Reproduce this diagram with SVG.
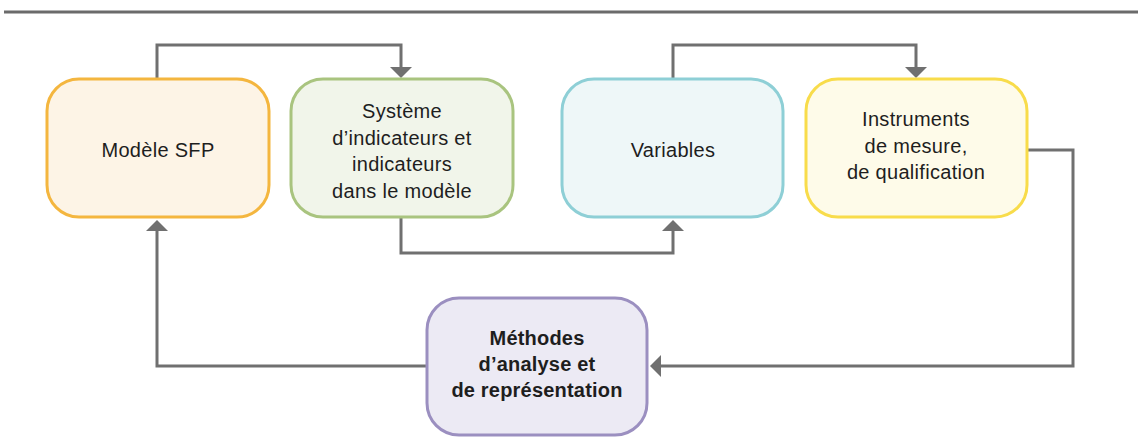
<svg xmlns="http://www.w3.org/2000/svg" width="1138" height="448" viewBox="0 0 1138 448">
<defs>
<style>
.box{stroke-width:3}
.t{font-family:"Liberation Sans",Arial,sans-serif;font-size:20px;letter-spacing:0.3px;fill:#1e1e1e;text-anchor:middle}
.b{font-weight:bold;letter-spacing:0.2px}
.c{fill:none;stroke:#707070;stroke-width:3;stroke-linejoin:miter}
.ah{fill:#707070}
</style>
</defs>
<rect x="4" y="10.5" width="1134" height="3" fill="#6b6b6b"/>
<g id="connectors">
<polyline class="c" points="157,79 157,45 401,45 401,68"/>
<polygon class="ah" points="390,67 412,67 401,78"/>
<polyline class="c" points="401,217 401,253 673,253 673,230"/>
<polygon class="ah" points="662,231 684,231 673,220"/>
<polyline class="c" points="673,79 673,45 916,45 916,68"/>
<polygon class="ah" points="905,67 927,67 916,78"/>
<polyline class="c" points="1027,150 1073,150 1073,366 661,366"/>
<polygon class="ah" points="661,355 661,377 650,366"/>
<polyline class="c" points="427,366 157,366 157,230"/>
<polygon class="ah" points="146,231 168,231 157,220"/>
</g>
<g id="node-modele">
<rect class="box" x="47" y="79" width="222" height="138" rx="32" fill="#FDF4E6" stroke="#F4B63F"/>
<text class="t" x="158" y="157">Modèle SFP</text>
</g>
<g id="node-systeme">
<rect class="box" x="291" y="79" width="222" height="138" rx="32" fill="#F1F5EA" stroke="#A9C47F"/>
<text class="t" x="402" y="118">Système</text>
<text class="t" x="402" y="144.5">d’indicateurs et</text>
<text class="t" x="402" y="171">indicateurs</text>
<text class="t" x="402" y="197.5">dans le modèle</text>
</g>
<g id="node-variables">
<rect class="box" x="562" y="79" width="221" height="138" rx="32" fill="#EEF7F8" stroke="#8ECFD6"/>
<text class="t" x="673" y="157">Variables</text>
</g>
<g id="node-instruments">
<rect class="box" x="806" y="79" width="221" height="138" rx="32" fill="#FEFBE9" stroke="#F8DC4B"/>
<text class="t" x="916" y="126">Instruments</text>
<text class="t" x="916" y="152.5">de mesure,</text>
<text class="t" x="916" y="179">de qualification</text>
</g>
<g id="node-methodes">
<rect class="box" x="427" y="298" width="220" height="137" rx="32" fill="#ECEAF4" stroke="#9B8FC0"/>
<text class="t b" x="537" y="345">Méthodes</text>
<text class="t b" x="537" y="371">d’analyse et</text>
<text class="t b" x="537" y="397">de représentation</text>
</g>
</svg>
